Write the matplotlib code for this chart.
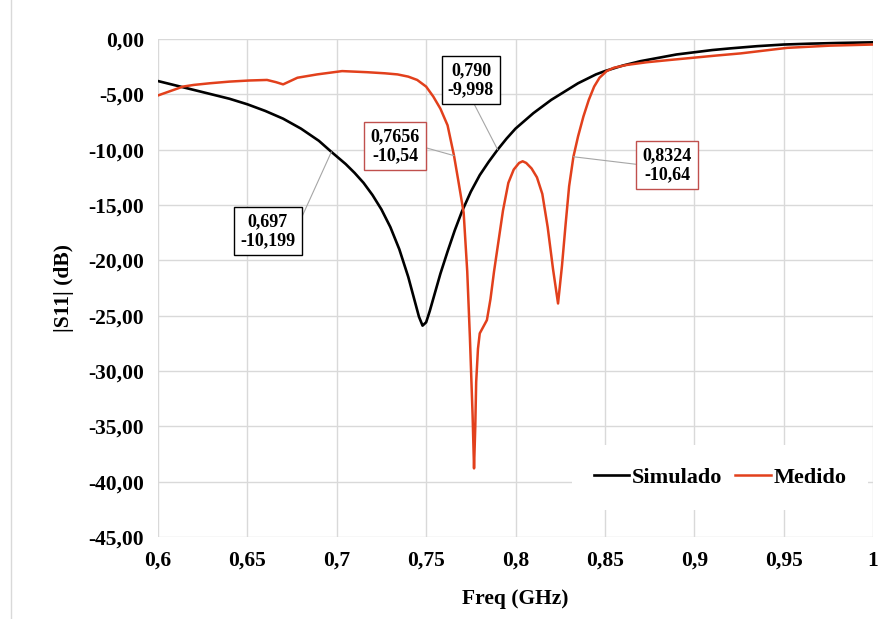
import numpy as np
import matplotlib
matplotlib.use('Agg')
import matplotlib.pyplot as plt
from matplotlib.lines import Line2D

plt.rcParams['font.family'] = 'Liberation Serif'
plt.rcParams['font.weight'] = 'bold'

# Simulado (black)
f_sim = [0.600, 0.610, 0.620, 0.630, 0.640, 0.650, 0.660, 0.670, 0.680, 0.690,
         0.697, 0.705, 0.710, 0.715, 0.720, 0.725, 0.730, 0.735, 0.740, 0.744,
         0.746, 0.748, 0.750, 0.752, 0.755, 0.758, 0.762, 0.766, 0.770, 0.775,
         0.780, 0.785, 0.790, 0.795, 0.800, 0.805, 0.810, 0.815, 0.820, 0.825,
         0.830, 0.835, 0.840, 0.845, 0.850, 0.860, 0.870, 0.880, 0.890, 0.900,
         0.910, 0.920, 0.935, 0.950, 0.965, 0.980, 1.000]
s_sim = [-3.8, -4.2, -4.6, -5.0, -5.4, -5.9, -6.5, -7.2, -8.1, -9.2,
         -10.2, -11.3, -12.1, -13.0, -14.1, -15.4, -17.0, -19.0, -21.5, -23.9,
         -25.1, -25.9, -25.6, -24.6, -22.9, -21.2, -19.2, -17.3, -15.6, -13.8,
         -12.3, -11.1, -10.0, -9.0, -8.1, -7.4, -6.7, -6.1, -5.5, -5.0,
         -4.5, -4.0, -3.6, -3.2, -2.9, -2.4, -2.0, -1.7, -1.4, -1.2,
         -1.0, -0.85, -0.65, -0.5, -0.42, -0.36, -0.3]

# Medido (red)
f_med = [0.600, 0.607, 0.614, 0.620, 0.629, 0.640, 0.651, 0.661, 0.666, 0.670,
         0.674, 0.678, 0.689, 0.703, 0.710, 0.717, 0.727, 0.734, 0.740, 0.745,
         0.750, 0.754, 0.758, 0.762, 0.7656, 0.768, 0.771, 0.773, 0.7745, 0.776,
         0.7768, 0.7775, 0.778, 0.779, 0.780, 0.782, 0.784, 0.786, 0.788, 0.790,
         0.793, 0.796, 0.799, 0.802, 0.804, 0.806, 0.809, 0.812, 0.815, 0.818,
         0.821, 0.8238, 0.826, 0.828, 0.830, 0.8324, 0.835, 0.838, 0.841, 0.844,
         0.847, 0.851, 0.855, 0.862, 0.8735, 0.886, 0.899, 0.912, 0.926, 0.939,
         0.952, 0.964, 0.976, 0.988, 1.000]
s_med = [-5.1, -4.7, -4.3, -4.15, -4.0, -3.85, -3.75, -3.7, -3.9, -4.1,
         -3.8, -3.5, -3.2, -2.9, -2.95, -3.0, -3.1, -3.2, -3.4, -3.7,
         -4.3, -5.2, -6.3, -7.8, -10.54, -12.8, -15.7, -21.0, -27.0, -34.0,
         -38.8, -35.0, -31.0, -28.0, -26.6, -26.0, -25.4, -23.5, -21.0, -18.8,
         -15.5, -13.0, -11.8, -11.2, -11.05, -11.2, -11.7, -12.5, -14.0, -17.0,
         -20.8, -23.9, -20.5, -16.8, -13.3, -10.64, -8.8, -7.0, -5.5, -4.3,
         -3.5, -2.9, -2.6, -2.35, -2.1, -1.9, -1.7, -1.5, -1.3, -1.05,
         -0.8, -0.7, -0.6, -0.55, -0.5]

x_ticks = [0.6, 0.65, 0.7, 0.75, 0.8, 0.85, 0.9, 0.95, 1.0]
x_labels = ['0,6', '0,65', '0,7', '0,75', '0,8', '0,85', '0,9', '0,95', '1']
y_ticks = list(range(0, -50, -5))
y_labels = ['0,00', '-5,00', '-10,00', '-15,00', '-20,00', '-25,00',
            '-30,00', '-35,00', '-40,00', '-45,00']

marks = [(0.697, -10.199, '0,697\n-10,199', 'black', 0.6615, -17.35, (1, 0.5)),
         (0.7656, -10.54, '0,7656\n-10,54', '#c0504d', 0.7326, -9.67, (1, 0.5)),
         (0.790, -9.998, '0,790\n-9,998', 'black', 0.7751, -3.70, (0.5, 0)),
         (0.8324, -10.64, '0,8324\n-10,64', '#c0504d', 0.8848, -11.39, (0, 0.5))]

red = '#e2401c'

fig = plt.figure(figsize=(8.95, 6.19), dpi=100)
ax = fig.add_axes([158/895, 1 - 537/619, 715/895, 498/619])

ax.plot(f_sim, s_sim, color='black', lw=1.9, label='Simulado', zorder=3)
ax.plot(f_med, s_med, color=red, lw=1.8, label='Medido', zorder=3)

ax.set_xlim(0.6, 1.0)
ax.set_ylim(-45, 0)
ax.set_xticks(x_ticks)
ax.set_xticklabels(x_labels)
ax.set_yticks(y_ticks)
ax.set_yticklabels(y_labels)
ax.tick_params(length=0, labelsize=15.5, pad=10)
ax.grid(True, color='#d9d9d9', lw=1)
ax.set_axisbelow(True)
for s in ax.spines.values():
    s.set_visible(False)

ax.set_xlabel('Freq (GHz)', fontsize=15.5, fontweight='bold', labelpad=13)
ax.set_ylabel('|S11| (dB)', fontsize=15.5, fontweight='bold', labelpad=10)

for fx, fy, txt, ec, tx, ty, rp in marks:
    ax.annotate(txt, xy=(fx, fy), xytext=(tx, ty), ha='center', va='center',
                fontsize=13, fontweight='bold', linespacing=1.15,
                bbox=dict(boxstyle='square,pad=0.35', fc='white', ec=ec, lw=1),
                arrowprops=dict(arrowstyle='-', color='#a6a6a6', lw=0.8,
                                relpos=rp, shrinkA=0, shrinkB=0),
                zorder=5)

leg = ax.legend(loc='center', bbox_to_anchor=(0.786, 0.1185), ncol=2,
                frameon=True, fancybox=False, edgecolor='none',
                facecolor='white', framealpha=1, fontsize=16,
                handlelength=1.6, handletextpad=0.1, columnspacing=0.6,
                borderpad=1.0)

fig.add_artist(Line2D([11/895, 11/895], [0, 1], color='#d9d9d9', lw=1))

fig.savefig('out.png', dpi=100)
